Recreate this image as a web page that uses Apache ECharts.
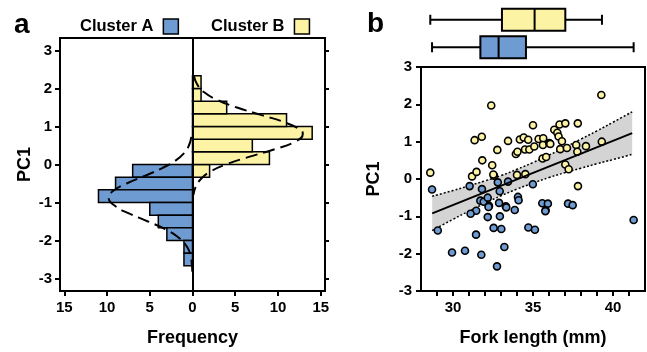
<!DOCTYPE html>
<html><head><meta charset="utf-8">
<script src="https://cdn.jsdelivr.net/npm/echarts@6/dist/echarts.min.js"></script>
<style>html,body{margin:0;padding:0;background:#fff}#c{width:647px;height:352px}</style>
</head><body><div id="c"></div>
<script>
// ---------- Panel a: histogram data ----------
const binWidth = 1 / 3;
const binStartA = [-0.3333, -0.6667, -1, -1.3333, -1.6667, -2, -2.3333, -2.6667];
const countA = [7, 9, 11, 5, 4, 3, 1, 1];
const binStartB = [-0.3333, 0, 0.3333, 0.6667, 1, 1.3333, 1.6667, 2];
const countB = [2, 9, 7, 14, 11, 4, 1, 1];
// fitted density curves (PC1, frequency)
const curveA_pc1 = [0.73, 0.5, 0.3, 0.1, -0.1, -0.3, -0.5, -0.7, -0.88, -1.1, -1.3, -1.5, -1.7, -1.9, -2.1, -2.3, -2.5, -2.9];
const curveA_freq = [0.14, 0.42, 0.98, 2.0, 3.6, 5.6, 7.7, 9.3, 9.8, 9.0, 7.3, 5.2, 3.2, 1.75, 0.84, 0.35, 0.13, 0.01];
const curveB_pc1 = [2.33, 2.1, 1.9, 1.7, 1.5, 1.3, 1.1, 0.9, 0.8, 0.6, 0.4, 0.2, 0, -0.2, -0.4, -0.6, -0.8];
const curveB_freq = [0.17, 0.57, 1.37, 2.9, 5.2, 8.1, 10.9, 12.7, 12.9, 12.0, 9.6, 6.6, 3.9, 2.0, 0.9, 0.35, 0.11];
const histTicksX = [-15, -10, -5, 0, 5, 10, 15];
const histTicksY = [-3, -2, -1, 0, 1, 2, 3];

// ---------- Panel b: scatter data (fork length mm, PC1) ----------
const scatterB = [[28.58,0.17],[31.19,0.07],[31.47,0.19],[31.35,1.04],[31.80,1.13],[31.83,0.50],[32.39,1.97],[32.45,0.37],[32.56,0.09],[32.52,0.12],
  [32.77,0.78],[33.44,1.02],[33.93,0.67],[34.03,0.73],[34.00,0.11],[34.18,1.06],[34.42,1.11],[34.50,0.79],[34.77,0.79],[34.52,0.13],[34.70,1.05],
  [35.00,1.44],[35.08,0.87],[35.35,1.07],[35.64,1.09],[35.62,0.91],[35.60,0.55],[35.82,0.59],[36.02,0.96],[36.08,0.94],[36.33,1.32],[36.52,1.24],
  [36.66,1.46],[37.02,1.49],[37.80,1.49],[36.60,1.14],[36.81,1.01],[36.70,0.80],[37.12,0.83],[37.02,0.39],[37.23,0.26],[37.70,0.91],[37.77,0.73],
  [38.31,0.88],[39.30,1.00],[39.27,2.25],[37.81,-0.19]];
const scatterA = [[28.69,-0.28],[31.04,-0.19],[31.81,-0.27],[32.80,-0.09],[32.92,-0.33],[33.44,-0.07],[34.99,-0.14],
  [31.71,-0.58],[31.92,-0.61],[32.17,-0.50],[32.25,-0.72],[32.88,-0.64],[33.30,-0.73],[34.06,-0.48],[34.10,-0.57],[33.86,-0.83],
  [31.45,-0.85],[31.10,-0.93],[32.17,-1.02],[32.93,-1.00],[32.22,-0.75],[33.33,-0.76],[35.79,-0.84],
  [35.58,-0.65],[35.93,-0.66],[35.77,-0.86],[37.19,-0.66],[37.48,-0.70],[41.29,-1.10],
  [29.05,-1.38],[32.54,-1.31],[33.02,-1.34],[34.71,-1.30],[35.12,-1.36],[31.44,-1.49],
  [29.94,-1.97],[30.75,-1.92],[31.77,-2.03],[33.21,-1.82],[32.75,-2.34]];
// regression line and 95% band
const fitX = [28.7, 41.2];
const fitY = [-0.92, 1.23];
const ciX = [28.7, 30, 31, 32, 33, 34, 35, 36, 37, 38, 39, 40, 41.2];
const ciUpper = [-0.46, -0.31, -0.18, -0.05, 0.09, 0.26, 0.44, 0.64, 0.85, 1.07, 1.29, 1.52, 1.80];
const ciLower = [-1.38, -1.08, -0.86, -0.65, -0.45, -0.27, -0.11, 0.04, 0.17, 0.29, 0.41, 0.52, 0.66];
// box plots of fork length: [min, Q1, median, Q3, max]
const boxStatsA = [28.69, 31.71, 32.85, 34.56, 41.29];
const boxStatsB = [28.58, 33.06, 35.10, 37.02, 39.31];
const scatterTicksX = [29, 30, 31, 32, 33, 34, 35, 36, 37, 38, 39, 40, 41];
const scatterLabelsX = [30, 35, 40];

const BLUE = '#6E9BD1', YELLOW = '#FCF3A5';
const FONT = "'Liberation Sans', Arial, sans-serif";

const chart = echarts.init(document.getElementById('c'), null, {renderer: 'canvas'});

function histRender(sign, color) {
  return function (params, api) {
    const lo = api.value(0), hi = api.value(1), n = api.value(2);
    const p1 = api.coord([sign * n, hi]);
    const p2 = api.coord([0, lo]);
    const x = Math.min(p1[0], p2[0]), w = Math.abs(p2[0] - p1[0]);
    return {type: 'rect', shape: {x: x, y: p1[1], width: w, height: p2[1] - p1[1]},
      style: {fill: color, stroke: '#000', lineWidth: 1.5}};
  };
}

function boxRender(params, api) {
  const cat = api.value(0);
  const v = [api.value(1), api.value(2), api.value(3), api.value(4), api.value(5)];
  const p = v.map(x => api.coord([x, cat]));
  const cy = p[0][1], h = 22, cap = 10;
  const color = cat === 0 ? BLUE : YELLOW;
  const ls = {stroke: '#000', lineWidth: 2};
  return {type: 'group', children: [
    {type: 'line', shape: {x1: p[0][0], y1: cy, x2: p[1][0], y2: cy}, style: ls},
    {type: 'line', shape: {x1: p[3][0], y1: cy, x2: p[4][0], y2: cy}, style: ls},
    {type: 'line', shape: {x1: p[0][0], y1: cy - cap / 2, x2: p[0][0], y2: cy + cap / 2}, style: ls},
    {type: 'line', shape: {x1: p[4][0], y1: cy - cap / 2, x2: p[4][0], y2: cy + cap / 2}, style: ls},
    {type: 'rect', shape: {x: p[1][0], y: cy - h / 2, width: p[3][0] - p[1][0], height: h}, style: {fill: color, stroke: '#000', lineWidth: 2}},
    {type: 'line', shape: {x1: p[2][0], y1: cy - h / 2, x2: p[2][0], y2: cy + h / 2}, style: ls}
  ]};
}

function bandRender(params, api) {
  if (params.dataIndex !== 0) return null;
  const up = ciX.map((x, i) => api.coord([x, ciUpper[i]]));
  const lo = ciX.map((x, i) => api.coord([x, ciLower[i]])).reverse();
  return {type: 'polygon', shape: {points: up.concat(lo)}, style: {fill: '#d4d4d4'}};
}

const tickLabel = {color: '#000', fontSize: 15, fontWeight: 'bold', fontFamily: FONT};
const axisName = {color: '#000', fontSize: 18, fontWeight: 'bold', fontFamily: FONT};
const blackLine = {onZero: false, lineStyle: {color: '#000', width: 2}};

const option = {
  animation: false,
  backgroundColor: '#fff',
  textStyle: {fontFamily: FONT},
  graphic: [
    {type: 'text', left: 14, top: 11, style: {text: 'a', font: 'bold 28px ' + FONT, fill: '#000'}},
    {type: 'text', left: 367, top: 10, style: {text: 'b', font: 'bold 28px ' + FONT, fill: '#000'}}
  ],
  legend: {
    left: 75, top: 13, align: 'right', itemWidth: 15, itemHeight: 15, itemGap: 32,
    textStyle: {color: '#000', fontSize: 16.5, fontWeight: 'bold', fontFamily: FONT, padding: [0, 5, 0, 0]},
    data: [
      {name: 'Cluster A', icon: 'rect', itemStyle: {color: BLUE, borderColor: '#000', borderWidth: 1.5}},
      {name: 'Cluster B', icon: 'rect', itemStyle: {color: YELLOW, borderColor: '#000', borderWidth: 1.5}}
    ],
    selectedMode: false
  },
  grid: [
    {left: 60, top: 38, width: 265, height: 253, show: true, borderColor: '#000', borderWidth: 2, containLabel: false},
    {left: 421, top: 67, width: 224, height: 225, show: true, borderColor: '#000', borderWidth: 2, containLabel: false},
    {left: 421, top: 6, width: 224, height: 55, containLabel: false}
  ],
  xAxis: [
    {gridIndex: 0, type: 'value', min: -15.5, max: 15.5, name: 'Frequency', nameLocation: 'middle', nameGap: 38, nameTextStyle: axisName,
      axisLine: blackLine, splitLine: {show: false},
      axisTick: {customValues: histTicksX, length: 5, lineStyle: {color: '#000', width: 2}},
      axisLabel: Object.assign({customValues: histTicksX, margin: 9, formatter: v => String(Math.abs(v))}, tickLabel)},
    {gridIndex: 1, type: 'value', min: 28, max: 42, name: 'Fork length (mm)', nameLocation: 'middle', nameGap: 38, nameTextStyle: axisName,
      axisLine: blackLine, splitLine: {show: false},
      axisTick: {customValues: scatterTicksX, length: 5, lineStyle: {color: '#000', width: 2}},
      axisLabel: Object.assign({customValues: scatterLabelsX, margin: 9}, tickLabel)},
    {gridIndex: 2, type: 'value', min: 28, max: 42, show: false}
  ],
  yAxis: [
    {gridIndex: 0, type: 'value', min: -3.33, max: 3.33, name: 'PC1', nameLocation: 'middle', nameGap: 26, nameRotate: 90, nameTextStyle: axisName,
      axisLine: blackLine, splitLine: {show: false},
      axisTick: {customValues: histTicksY, length: 5, lineStyle: {color: '#000', width: 2}},
      axisLabel: Object.assign({customValues: histTicksY, margin: 8}, tickLabel)},
    {gridIndex: 0, type: 'value', position: 'right', min: -3.33, max: 3.33,
      axisLine: blackLine, splitLine: {show: false},
      axisTick: {customValues: histTicksY, length: 4, lineStyle: {color: '#000', width: 2}},
      axisLabel: {show: false}},
    {gridIndex: 1, type: 'value', min: -3, max: 3, interval: 1, name: 'PC1', nameLocation: 'middle', nameGap: 38, nameRotate: 90, nameTextStyle: axisName,
      axisLine: blackLine, splitLine: {show: false},
      axisTick: {length: 5, lineStyle: {color: '#000', width: 2}},
      axisLabel: Object.assign({margin: 9}, tickLabel)},
    {gridIndex: 2, type: 'category', data: ['A', 'B'], show: false}
  ],
  series: [
    {name: 'Cluster A', type: 'custom', xAxisIndex: 0, yAxisIndex: 0, renderItem: histRender(-1, BLUE),
      data: binStartA.map((s, i) => [s, s + binWidth, countA[i]]), z: 2},
    {name: 'Cluster B', type: 'custom', xAxisIndex: 0, yAxisIndex: 0, renderItem: histRender(1, YELLOW),
      data: binStartB.map((s, i) => [s, s + binWidth, countB[i]]), z: 2,
      markLine: {silent: true, symbol: ['none', 'none'], label: {show: false}, animation: false,
        lineStyle: {color: '#000', type: 'solid', width: 2}, data: [{xAxis: 0}]}},
    {name: 'fitA', type: 'line', xAxisIndex: 0, yAxisIndex: 0, smooth: true, showSymbol: false, z: 4,
      lineStyle: {color: '#000', width: 2, type: [12, 6]},
      data: curveA_pc1.map((y, i) => [-curveA_freq[i], y])},
    {name: 'fitB', type: 'line', xAxisIndex: 0, yAxisIndex: 0, smooth: true, showSymbol: false, z: 4,
      lineStyle: {color: '#000', width: 2, type: [12, 6]},
      data: curveB_pc1.map((y, i) => [curveB_freq[i], y])},
    {name: 'band', type: 'custom', xAxisIndex: 1, yAxisIndex: 2, renderItem: bandRender, z: 1,
      data: ciX.map((x, i) => [x, ciLower[i], ciUpper[i]])},
    {name: 'upper', type: 'line', xAxisIndex: 1, yAxisIndex: 2, smooth: true, showSymbol: false, z: 2,
      lineStyle: {color: '#000', width: 1.5, type: [2, 2]}, data: ciX.map((x, i) => [x, ciUpper[i]])},
    {name: 'lower', type: 'line', xAxisIndex: 1, yAxisIndex: 2, smooth: true, showSymbol: false, z: 2,
      lineStyle: {color: '#000', width: 1.5, type: [2, 2]}, data: ciX.map((x, i) => [x, ciLower[i]])},
    {name: 'ptsB', type: 'scatter', xAxisIndex: 1, yAxisIndex: 2, symbolSize: 7, z: 3,
      itemStyle: {color: YELLOW, borderColor: '#000', borderWidth: 1.6, opacity: 1}, data: scatterB},
    {name: 'ptsA', type: 'scatter', xAxisIndex: 1, yAxisIndex: 2, symbolSize: 7, z: 3,
      itemStyle: {color: BLUE, borderColor: '#000', borderWidth: 1.6, opacity: 1}, data: scatterA},
    {name: 'fit', type: 'line', xAxisIndex: 1, yAxisIndex: 2, showSymbol: false, z: 4,
      lineStyle: {color: '#000', width: 2}, data: fitX.map((x, i) => [x, fitY[i]])},
    {name: 'box', type: 'custom', xAxisIndex: 2, yAxisIndex: 3, renderItem: boxRender,
      data: [[0].concat(boxStatsA), [1].concat(boxStatsB)]}
  ]
};
chart.setOption(option);
</script></body></html>
